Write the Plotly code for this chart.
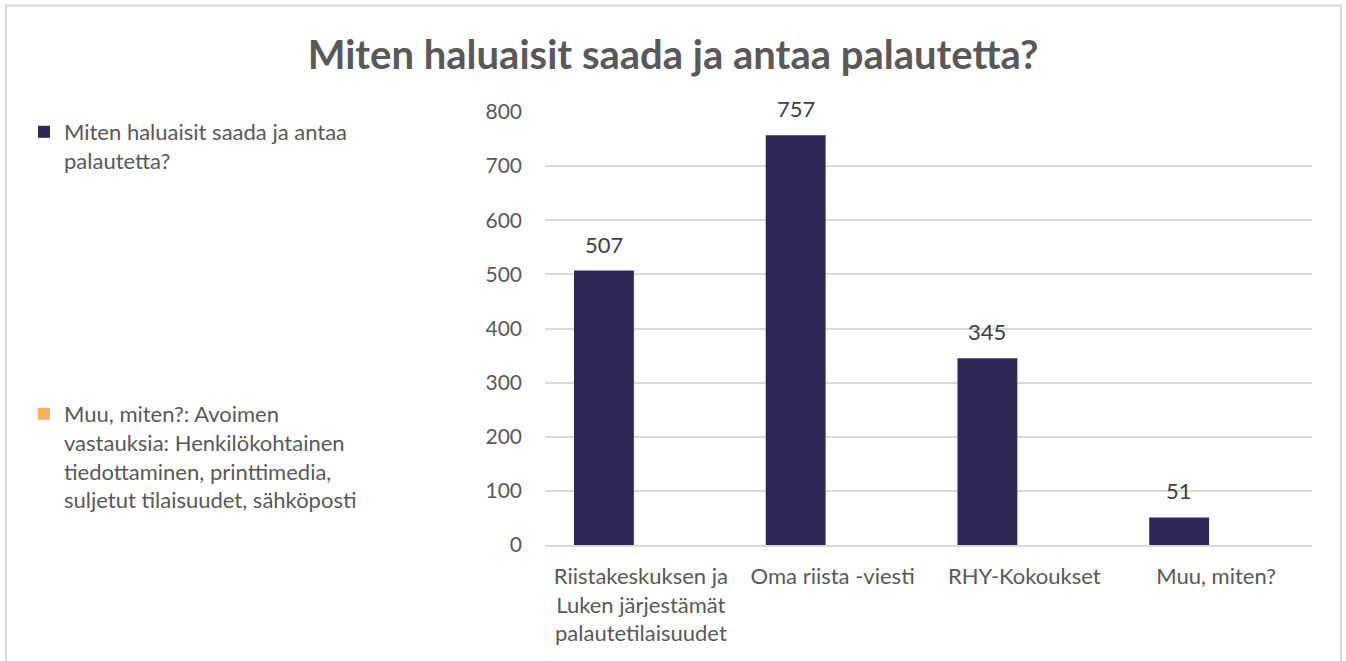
import plotly.graph_objects as go

categories = ["Riistakeskuksen ja<br>Luken järjestämät<br>palautetilaisuudet",
              "Oma riista -viesti", "RHY-Kokoukset", "Muu, miten?"]
values = [507, 757, 345, 51]
other_values = [None, None, None, None]
series1_name = "Miten haluaisit saada ja antaa<br>palautetta?"
series2_name = ("Muu, miten?: Avoimen<br>vastauksia: Henkilökohtainen<br>"
                "tiedottaminen, printtimedia,<br>suljetut tilaisuudet, sähköposti")
title_text = "Miten haluaisit saada ja antaa palautetta?"
y_ticks = [0, 100, 200, 300, 400, 500, 600, 700, 800]

W, H = 1346, 661
L, R, T, B = 545, 34, 112, 116
pw = W - L - R
ph = H - T - B

def px_x(x):
    return (x - L) / pw

def px_y(y):
    return (H - B - y) / ph

FONT = "Lato, 'Open Sans', sans-serif"
GRAY = "#595959"

fig = go.Figure()
fig.add_trace(go.Bar(
    x=categories, y=values, name=series1_name,
    marker=dict(color="#2d2858", line=dict(width=0)),
    cliponaxis=False, legend="legend",
))
fig.add_trace(go.Bar(
    x=categories, y=other_values, name=series2_name,
    marker=dict(color="#f6b15a", line=dict(width=0)),
    legend="legend2",
))

# data labels placed through the axes (category offset matches first bar of the group)
annotations = [
    dict(x=c, y=v, xref="x", yref="y", text=str(v), showarrow=False,
         xanchor="center", yanchor="bottom", yshift=11, xshift=-37,
         font=dict(size=22, color="#404040", family=FONT))
    for c, v in zip(categories, values)
]

fig.update_layout(
    width=W, height=H,
    margin=dict(l=L, r=R, t=T, b=B),
    paper_bgcolor="white", plot_bgcolor="white",
    barmode="group", bargap=0.229, bargroupgap=0.19,
    font=dict(family=FONT, color=GRAY, size=22),
    title=dict(text=f"<b>{title_text}</b>", x=0.5, xanchor="center",
               y=1 - 55 / H, yanchor="middle",
               font=dict(size=40, color=GRAY, family=FONT)),
    showlegend=True,
    legend=dict(x=px_x(24), y=px_y(111), xanchor="left", yanchor="top",
                font=dict(size=22, color=GRAY, family=FONT),
                valign="top", bgcolor="rgba(0,0,0,0)"),
    legend2=dict(x=px_x(24), y=px_y(393), xanchor="left", yanchor="top",
                 font=dict(size=22, color=GRAY, family=FONT),
                 valign="top", bgcolor="rgba(0,0,0,0)"),
    xaxis=dict(showline=True, linecolor="#d9d9d9", linewidth=1.5,
               ticks="", ticklabelstandoff=11,
               tickfont=dict(size=22, color=GRAY, family=FONT),
               showgrid=False),
    yaxis=dict(range=[0, 800], tickvals=y_ticks, showgrid=True,
               gridcolor="#d9d9d9", gridwidth=1.5, zeroline=False,
               ticks="", ticklabelstandoff=22,
               tickfont=dict(size=21, color=GRAY, family=FONT)),
    annotations=annotations,
    shapes=[dict(type="rect", xref="paper", yref="paper",
                 x0=px_x(6), x1=px_x(1341), y0=px_y(680), y1=px_y(5.5),
                 line=dict(color="#d9d9d9", width=2), fillcolor="rgba(0,0,0,0)",
                 layer="below")],
)

fig.write_html("out.html", config={"displayModeBar": False},
               post_script="document.body.style.margin='0';document.body.style.overflow='hidden';")
